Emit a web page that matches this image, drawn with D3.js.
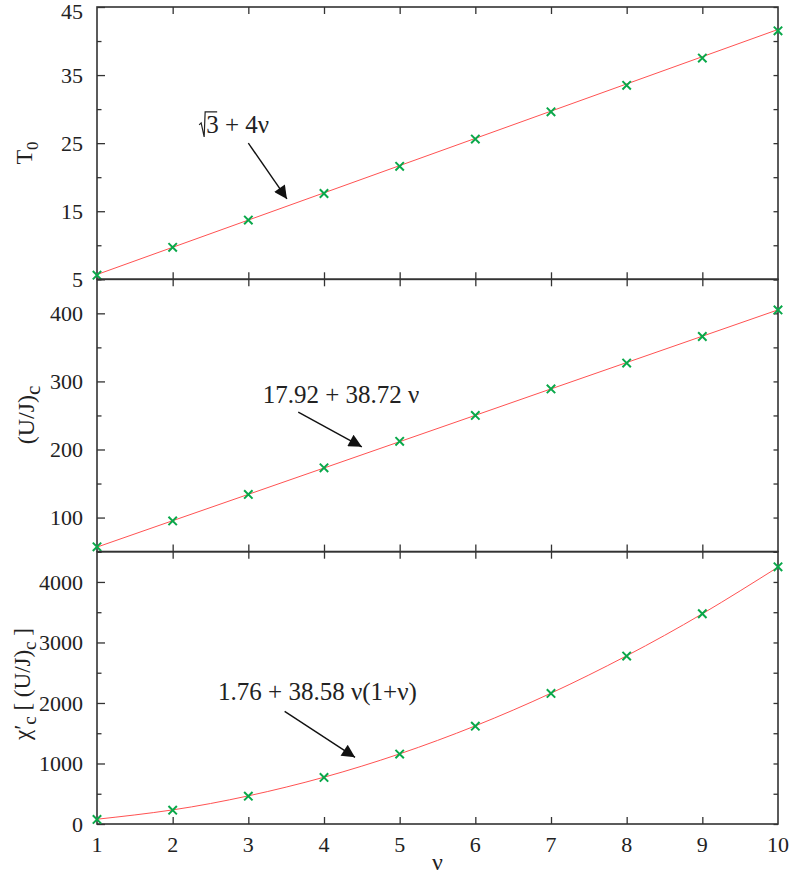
<!DOCTYPE html>
<html>
<head>
  <script src="https://d3js.org/d3.v7.min.js"></script>
  <title>T0, (U/J)c and chi'c vs nu</title>
  <style>
    body { margin: 0; background: #fff; }
  </style>
</head>
<body>
<div id="chart"></div>
<script>
  // x values shared by all three panels
  const nu = [1, 2, 3, 4, 5, 6, 7, 8, 9, 10];

  // panel 1: T0
  const t0Points = [5.6, 9.7, 13.7, 17.6, 21.6, 25.6, 29.6, 33.5, 37.5, 41.5];
  const t0Fit    = [5.7, 9.7, 13.7, 17.7, 21.7, 25.7, 29.7, 33.7, 37.7, 41.7];

  // panel 2: (U/J)c
  const ujPoints = [57, 95, 134, 173, 212, 250, 289, 327, 366, 405];
  const ujFit    = [56.6, 95.4, 134.1, 172.8, 211.5, 250.2, 289.0, 327.7, 366.4, 405.1];

  // panel 3: chi'c [(U/J)c]
  const chiPoints = [75, 228, 460, 770, 1155, 1617, 2158, 2775, 3475, 4250];
  const chiFit    = [79, 233, 465, 773, 1159, 1622, 2162, 2780, 3474, 4245];

  const yTicks1 = [5, 15, 25, 35, 45];
  const yMinor1 = [10, 20, 30, 40];
  const yTicks2 = [100, 200, 300, 400];
  const yMinor2 = [50, 150, 250, 350, 450];
  const yTicks3 = [0, 1000, 2000, 3000, 4000];
  const yMinor3 = [500, 1500, 2500, 3500, 4500];

  const W = 789, H = 877;
  const left = 97, right = 778;
  const panelTop = [7, 279.3, 551.7], panelH = 272.3;
  const serif = '"Liberation Serif"';

  const svg = d3.select("#chart").append("svg")
    .attr("width", W).attr("height", H);

  const x = d3.scaleLinear().domain([1, 10]).range([left, right]);

  const panels = [
    { dom: [5, 45], pts: t0Points, fit: t0Fit, ticks: yTicks1, minor: yMinor1,
      note: { tx: 2.35, ty: 26.5, ax: 3.0, ay: 25.0, bx: 3.51, by: 16.8, sqrt: true } },
    { dom: [50, 450], pts: ujPoints, fit: ujFit, ticks: yTicks2, minor: yMinor2,
      note: { tx: 3.19, ty: 268, ax: 3.66, ay: 255, bx: 4.5, by: 204,
              label: "17.92 + 38.72 \u03bd" } },
    { dom: [0, 4500], pts: chiPoints, fit: chiFit, ticks: yTicks3, minor: yMinor3,
      note: { tx: 2.6, ty: 2043, ax: 3.48, ay: 1862, bx: 4.41, by: 1102,
              label: "1.76 + 38.58 \u03bd(1+\u03bd)" } }
  ];

  // arrowhead
  svg.append("defs").append("marker")
    .attr("id", "head")
    .attr("viewBox", "0 0 10 10")
    .attr("refX", 10).attr("refY", 5)
    .attr("markerWidth", 17).attr("markerHeight", 13)
    .attr("markerUnits", "userSpaceOnUse")
    .attr("orient", "auto")
    .append("path").attr("d", "M0,0 L10,5 L0,10 z").attr("fill", "#111");

  const axisColor = "#333";

  panels.forEach((p, i) => {
    const top = panelTop[i], bottom = top + panelH;
    const y = d3.scaleLinear().domain(p.dom).range([bottom, top]);
    const g = svg.append("g");

    // left axis with labels, major ticks inward
    g.append("g")
      .attr("transform", `translate(${left},0)`)
      .call(d3.axisLeft(y).tickValues(p.ticks).tickSize(-8).tickPadding(14)
        .tickFormat(d3.format("d")))
      .call(a => a.select(".domain").remove())
      .call(a => a.selectAll("line").attr("stroke", axisColor).attr("stroke-width", 1.3))
      .call(a => a.selectAll("text").style("font-size", "22px")
        .attr("dy", d => d === 45 ? "0.5em" : "0.32em"));
    // left minor
    g.append("g")
      .attr("transform", `translate(${left},0)`)
      .call(d3.axisLeft(y).tickValues(p.minor).tickSize(-4.5).tickFormat(""))
      .call(a => a.select(".domain").remove())
      .call(a => a.selectAll("line").attr("stroke", axisColor).attr("stroke-width", 1.3));
    // right mirror ticks
    g.append("g")
      .attr("transform", `translate(${right},0)`)
      .call(d3.axisRight(y).tickValues(p.ticks.concat(p.minor)).tickSize(-4.5).tickFormat(""))
      .call(a => a.select(".domain").remove())
      .call(a => a.selectAll("line").attr("stroke", axisColor).attr("stroke-width", 1.3));

    // x ticks top and bottom, inward
    g.append("g")
      .attr("transform", `translate(0,${top})`)
      .call(d3.axisTop(x).tickValues(nu.slice(1, 9)).tickSize(-7).tickFormat(""))
      .call(a => a.select(".domain").remove())
      .call(a => a.selectAll("line").attr("stroke", axisColor).attr("stroke-width", 1.3));
    g.append("g")
      .attr("transform", `translate(0,${bottom})`)
      .call(d3.axisBottom(x).tickValues(nu.slice(1, 9)).tickSize(-7).tickFormat(""))
      .call(a => a.select(".domain").remove())
      .call(a => a.selectAll("line").attr("stroke", axisColor).attr("stroke-width", 1.3));

    // frame
    g.append("rect")
      .attr("x", left).attr("y", top)
      .attr("width", right - left).attr("height", panelH)
      .attr("fill", "none").attr("stroke", axisColor).attr("stroke-width", 1.6);

    // fit line
    g.append("path")
      .datum(nu.map((v, k) => [v, p.fit[k]]))
      .attr("fill", "none")
      .attr("stroke", "#ff5252")
      .attr("stroke-width", 1)
      .attr("d", d3.line().x(d => x(d[0])).y(d => y(d[1])).curve(d3.curveNatural));

    // data crosses
    const s = 4.2;
    g.selectAll(".pt")
      .data(nu.map((v, k) => [v, p.pts[k]]))
      .join("path")
      .attr("class", "pt")
      .attr("transform", d => `translate(${x(d[0])},${y(d[1])})`)
      .attr("d", `M${-s},${-s}L${s},${s}M${-s},${s}L${s},${-s}`)
      .attr("stroke", "#0aa84a")
      .attr("stroke-width", 2);

    // annotation
    const n = p.note;
    g.append("line")
      .attr("x1", x(n.ax)).attr("y1", y(n.ay))
      .attr("x2", x(n.bx)).attr("y2", y(n.by))
      .attr("stroke", "#111").attr("stroke-width", 1.4)
      .attr("marker-end", "url(#head)");

    if (n.sqrt) {
      const tx = x(n.tx), ty = y(n.ty);
      g.append("path")
        .attr("d", `M${tx},${ty - 8} L${tx + 2},${ty - 10} L${tx + 5},${ty + 4} L${tx + 6},${ty - 21} L${tx + 18},${ty - 21}`)
        .attr("fill", "none").attr("stroke", "#222").attr("stroke-width", 1.2);
      g.append("text")
        .attr("x", tx + 7).attr("y", ty)
        .style("font-size", "25px")
        .text("3 + 4\u03bd");
    } else {
      g.append("text")
        .attr("x", x(n.tx)).attr("y", y(n.ty))
        .style("font-size", "25px")
        .text(n.label);
    }
  });

  // x axis labels at the bottom
  const xb = panelTop[2] + panelH;
  svg.append("g").selectAll("text")
    .data(nu)
    .join("text")
    .attr("x", d => x(d)).attr("y", xb + 28)
    .attr("text-anchor", "middle")
    .style("font-size", "22px")
    .text(d => d);

  svg.append("text")
    .attr("x", (left + right) / 2).attr("y", 870)
    .attr("text-anchor", "middle")
    .style("font-size", "24px")
    .text("\u03bd");

  // y titles
  const yt1 = svg.append("text")
    .attr("transform", "translate(32,153) rotate(-90)")
    .attr("text-anchor", "middle")
    .style("font-size", "24px");
  yt1.append("tspan").text("T");
  yt1.append("tspan").attr("dy", 6).style("font-size", "17px").text("0");

  const yt2 = svg.append("text")
    .attr("transform", "translate(34,415) rotate(-90)")
    .attr("text-anchor", "middle")
    .style("font-size", "24px");
  yt2.append("tspan").text("(U/J)");
  yt2.append("tspan").attr("dy", 6).style("font-size", "21px").text("c");

  const yt3 = svg.append("text")
    .attr("transform", "translate(30,684) rotate(-90)")
    .attr("text-anchor", "middle")
    .style("font-size", "23px");
  yt3.append("tspan").text("\u03c7\u2032");
  yt3.append("tspan").attr("dy", 6).style("font-size", "19px").text("c");
  yt3.append("tspan").attr("dy", -6).text(" [ (U/J)");
  yt3.append("tspan").attr("dy", 6).style("font-size", "19px").text("c");
  yt3.append("tspan").attr("dy", -6).text(" ]");

  // one serif face for every text
  svg.selectAll("text").style("font-family", serif).style("fill", "#222");
</script>
</body>
</html>
